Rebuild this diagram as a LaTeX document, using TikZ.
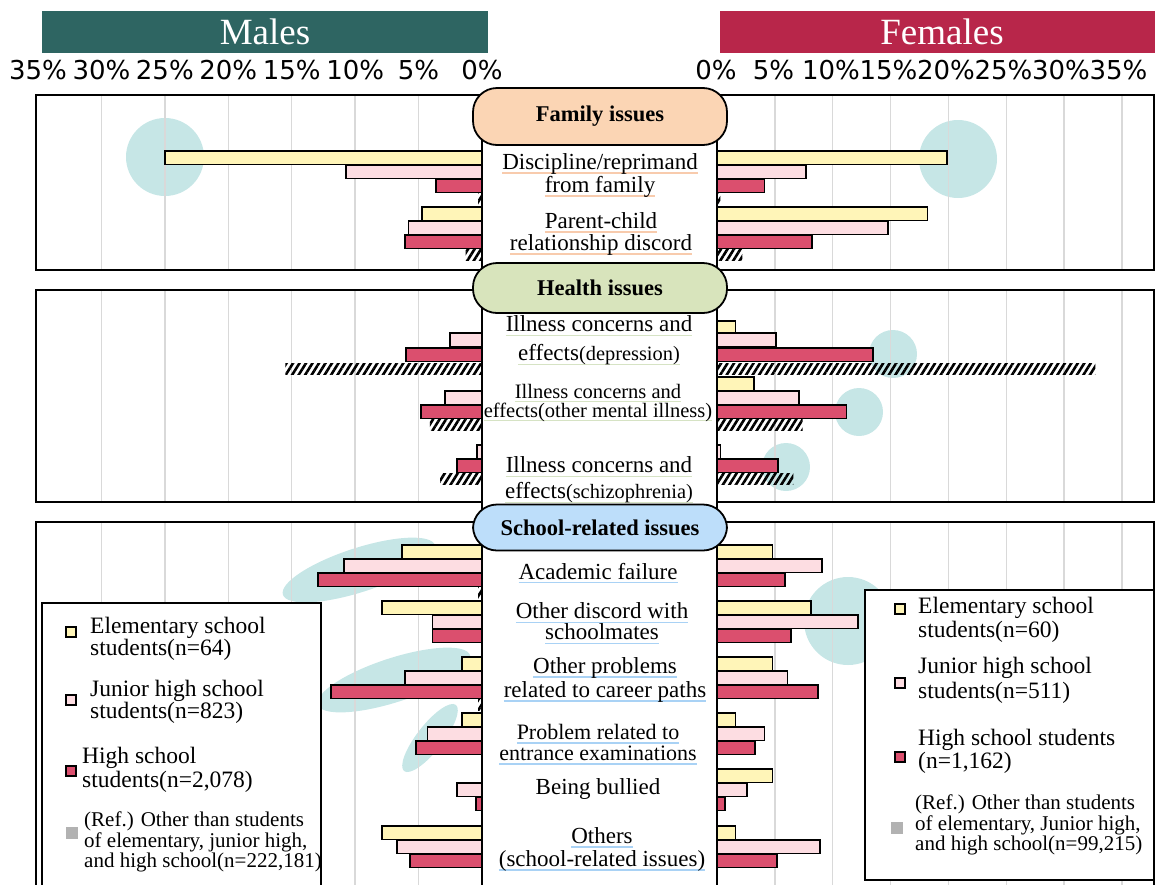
\documentclass[tikz,border=0pt]{standalone}
\usepackage{fontspec}
\setmainfont{Liberation Serif}
\newfontfamily\axisfont{DejaVu Sans}
\usetikzlibrary{patterns.meta}
\definecolor{maleteal}{HTML}{2E6562}
\definecolor{femalered}{HTML}{B8264A}
\definecolor{elemyellow}{HTML}{FFF5B8}
\definecolor{juniorpink}{HTML}{FDDDE2}
\definecolor{highred}{HTML}{DB4F6E}
\definecolor{blobcyan}{HTML}{C6E6E6}
\definecolor{gridgray}{HTML}{D9D9D9}
\definecolor{familypeach}{HTML}{FBD5B4}
\definecolor{healthgreen}{HTML}{D8E4BC}
\definecolor{schoolblue}{HTML}{BDDEFA}
\definecolor{familyline}{HTML}{F8CBAD}
\definecolor{healthline}{HTML}{D6E3C4}
\definecolor{schoolline}{HTML}{A9D2F5}
\newsavebox\ulbox
\newcommand\cul[2]{\sbox\ulbox{#2}\leavevmode\rlap{\textcolor{#1}{\rule[-4pt]{\wd\ulbox}{1.2pt}}}\usebox\ulbox}

\begin{document}
\begin{tikzpicture}[x=1pt,y=-1pt,every node/.style={inner sep=0pt},
 sexhead/.style={fill=#1,text=white,minimum height=42pt,font=\fontsize{37}{37}\selectfont},
 axislbl/.style={font=\axisfont\fontsize{26}{26}\selectfont},
 panel/.style={draw=black,line width=2.2pt},
 grid line/.style={draw=gridgray,line width=1.5pt},
 blob/.style={fill=blobcyan},
 bar/.style={draw=black,line width=1.8pt,fill=#1},
 refbar/.style={pattern={Lines[angle=58,distance=5.5pt,line width=2.6pt]},pattern color=black},
 pill/.style={draw=black,fill=#1,line width=1.8pt,rounded corners=24pt,minimum width=254pt,font=\bfseries\fontsize{22.5}{22.5}\selectfont},
 lbl/.style={align=center,font=\fontsize{23}{#1}\selectfont},lbl/.default=23,
 legbox/.style={draw=black,fill=white,line width=1.8pt},
 legsq/.style={draw=black,fill=#1,line width=1.5pt,minimum size=10pt},
 refsq/.style={fill=black!30,minimum size=12pt},
 legtxt/.style={anchor=west,align=left,font=\fontsize{23.5}{#1}\selectfont},legtxt/.default=22,
 reftxt/.style={anchor=west,align=left,font=\fontsize{21}{#1}\selectfont},reftxt/.default=18.5]
\useasboundingbox (0,0) rectangle (1155,884);
% headers and axes
\node[sexhead=maleteal,minimum width=446pt] (males) at (265,32) {Males};
\node[sexhead=femalered,minimum width=435pt] (females) at (937.5,32) {\hspace*{9pt}Females};
\foreach \p in {0,5,...,35}{
  \node[axislbl] (mtick\p) at ({482-12.686*\p},70) {\p\%};
  \node[axislbl] (ftick\p) at ({716+11.5*\p},70) {\p\%};
}
% highlight blobs
\fill[blob] (165,157) circle (39);
\fill[blob] (958,159) circle (39);
\fill[blob] (893,354) circle (24);
\fill[blob] (859,412) circle (24);
\fill[blob] (786,467) circle (24);
\fill[blob] (848,621) circle (44);
\fill[blob,rotate around={18:(359,570)}] (359,570) ellipse [x radius=80,y radius=22];
\fill[blob,rotate around={18:(394,680)}] (394,680) ellipse [x radius=80,y radius=22];
\fill[blob,rotate around={52:(430,738)}] (430,738) ellipse [x radius=42,y radius=13];
% grid
\foreach \top/\bot in {95/270,290/502,522/890}{
  \foreach \p in {5,10,...,30} \draw[grid line] ({482-12.686*\p},\top) -- ({482-12.686*\p},\bot);
  \foreach \p in {5,10,...,35} \draw[grid line] ({717+11.57*\p},\top) -- ({717+11.57*\p},\bot);
}
% elementary
\foreach \yt/\pm/\pf in {151/25.0/19.9,207/4.7/18.2,321/0/1.6,377/0/3.2,545/6.3/4.8,601/7.9/8.1,657/1.6/4.8,713/1.6/1.6,769/0/4.8,826/7.9/1.6}{
  \draw[bar=elemyellow] ({482-12.686*\pm},\yt) rectangle (490,\yt+13.5);
  \draw[bar=elemyellow] (709,\yt) rectangle ({717+11.57*\pf},\yt+13.5);
}
% junior high
\foreach \yt/\pm/\pf in {151/10.7/7.7,207/5.8/14.8,319/2.5/5.1,377/2.9/7.1,431/0.4/0.3,545/10.9/9.1,601/3.9/12.2,657/6.1/6.1,713/4.3/4.1,769/2.0/2.6,826/6.7/8.9}{
  \draw[bar=juniorpink] ({482-12.686*\pm},\yt+14) rectangle (490,\yt+27.5);
  \draw[bar=juniorpink] (709,\yt+14) rectangle ({717+11.57*\pf},\yt+27.5);
}
% high school
\foreach \yt/\pm/\pf in {151/3.6/4.1,207/6.1/8.2,320/6.0/13.5,377/4.8/11.2,431/2.0/5.3,545/12.9/5.9,601/3.9/6.4,657/11.9/8.7,713/5.2/3.3,769/0.5/0.7,826/5.7/5.2}{
  \draw[bar=highred] ({482-12.686*\pm},\yt+28) rectangle (490,\yt+41.5);
  \draw[bar=highred] (709,\yt+28) rectangle ({717+11.57*\pf},\yt+41.5);
}
% reference group
\foreach \yt/\pm/\pf in {151/0.3/0.3,207/1.3/2.2,321/15.5/32.7,377/4.1/7.4,431/3.3/6.6,545/0.3/0,657/0.3/0}{
  \fill[refbar] ({482-12.686*\pm},\yt+42) rectangle (482,\yt+53);
  \fill[refbar] (717,\yt+42) rectangle ({717+11.57*\pf},\yt+53);
}
% panels
\foreach \top/\bot in {95/270,290/502,522/900}{
  \draw[panel] (36,\top) rectangle (482,\bot);
  \draw[panel] (717,\top) rectangle (1154,\bot);
}
% label column
\fill[white] (482,100) rectangle (717,890);
\draw[panel] (482,100) -- (482,890) (717,100) -- (717,890);
\node[pill=familypeach,minimum height=57pt] (famhead) at (600,116.5) {Family issues};
\node[pill=healthgreen,minimum height=50pt] (healthhead) at (600,288) {Health issues};
\node[pill=schoolblue,minimum height=46pt] (schoolhead) at (600,527.5) {School-related issues};
\node[lbl] (discipline) at (600,175.5) {\cul{familyline}{Discipline/reprimand}\\\cul{familyline}{from family}};
\node[lbl=22] (parentchild) at (601,234) {\cul{familyline}{Parent-child}\\\cul{familyline}{relationship discord}};
\node[lbl=29] (depression) at (599,340.5) {\cul{healthline}{Illness concerns and}\\\cul{healthline}{effects{\fontsize{20.4}{20.4}\selectfont(depression)}}};
\node[lbl,font=\fontsize{20.5}{19}\selectfont] (othermental) at (598,403) {\cul{healthline}{Illness concerns and}\\\cul{healthline}{effects(other mental illness)}};
\node[lbl=26] (schizo) at (599,480) {\cul{healthline}{Illness concerns and}\\\cul{healthline}{effects{\fontsize{20.4}{20.4}\selectfont(schizophrenia)}}};
\node[lbl] (academic) at (598,573) {\cul{schoolline}{Academic failure}};
\node[lbl=21] (discord) at (602,623.5) {\cul{schoolline}{Other discord with}\\\cul{schoolline}{schoolmates}};
\node[lbl=24] (career) at (605,680) {\cul{schoolline}{Other problems}\\\cul{schoolline}{related to career paths}};
\node[lbl,font=\fontsize{22}{21}\selectfont] (entrance) at (598,744.5) {\cul{schoolline}{Problem related to}\\\cul{schoolline}{entrance examinations}};
\node[lbl] (bullied) at (598,789) {Being bullied};
\node[lbl] (others) at (602,849.5) {\cul{schoolline}{Others}\\\cul{schoolline}{(school-related issues)}};
% male legend
\draw[legbox] (42,603) rectangle (321,900);
\node[legsq=elemyellow] (mlegelem) at (71,632) {};
\node[legtxt] (mlegelemtxt) at (90,638.5) {Elementary school\\students(n=64)};
\node[legsq=juniorpink] (mlegjun) at (71,700) {};
\node[legtxt] (mlegjuntxt) at (90,702) {Junior high school\\students(n=823)};
\node[legsq=highred] (mleghigh) at (71,771) {};
\node[legtxt=24] (mleghightxt) at (82,770) {High school\\students(n=2,078)};
\node[refsq] (mlegref) at (72,833) {};
\node[reftxt] (mlegreftxt) at (84,842) {(Ref.) Other than students\\of elementary, junior high,\\and high school(n=222,181)};
% female legend
\draw[legbox] (865,590) rectangle (1154,880);
\node[legsq=elemyellow] (flegelem) at (900,609) {};
\node[legtxt=24] (flegelemtxt) at (918,620) {Elementary school\\students(n=60)};
\node[legsq=juniorpink] (flegjun) at (900,683) {};
\node[legtxt=25] (flegjuntxt) at (918,680.5) {Junior high school\\students(n=511)};
\node[legsq=highred] (fleghigh) at (900,757) {};
\node[legtxt=23] (fleghightxt) at (918,751.5) {High school students\\(n=1,162)};
\node[refsq] (flegref) at (897,828) {};
\node[reftxt] (flegreftxt) at (915,825) {(Ref.) Other than students\\of elementary, Junior high,\\and high school(n=99,215)};
\end{tikzpicture}
\end{document}
